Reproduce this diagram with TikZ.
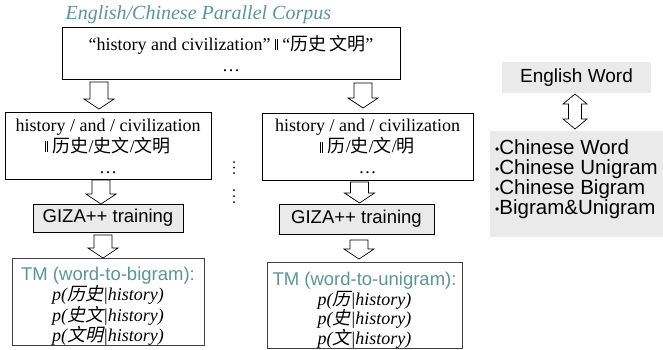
\documentclass[tikz,border=0pt]{standalone}
\usepackage{fontspec}
\setmainfont{Liberation Serif}
\setsansfont{Liberation Sans}
\newfontfamily\cjk{Noto Sans CJK SC}
\newfontfamily\cjkit[FakeSlant=0.22]{Noto Sans CJK SC}
\usetikzlibrary{positioning}

\definecolor{corpusteal}{RGB}{90,150,150}
\definecolor{boxgray}{RGB}{234,234,234}
\newcommand{\dbar}{\rule{0.8pt}{11pt}\hspace{1.4pt}\rule{0.8pt}{11pt}}
\newcommand{\zh}[1]{{\cjk #1}}
\newcommand{\zhit}[1]{{\cjkit #1}}
\newcommand{\unitdot}{\raisebox{1.5pt}{\fontsize{12}{12}\selectfont\textbullet}}

\tikzset{
  corpus/.style={draw, line width=0.8pt, inner sep=0pt, align=center, font=\fontsize{18}{21}\selectfont},
  giza/.style={draw, fill=boxgray, line width=0.8pt, inner sep=0pt, font=\sffamily\fontsize{18.5}{20}\selectfont},
  tm/.style={draw=black!75, line width=0.8pt, inner sep=0pt, align=center, font=\fontsize{18}{19}\selectfont\itshape},
  unit/.style={fill=boxgray, inner sep=0pt, font=\sffamily\fontsize{19}{20}\selectfont},
  arrowline/.style={draw, fill=white, line width=0.7pt, line join=miter},
  pics/blockdown/.style={code={
    \path[arrowline] (-9,0) -- (9,0) -- (9,#1-10) -- (15,#1-10) -- (0,#1) -- (-15,#1-10) -- (-9,#1-10) -- cycle;}},
  pics/blockboth/.style={code={
    \path[arrowline] (0,0) -- (12,10) -- (6.5,10) -- (6.5,#1-10) -- (12,#1-10) -- (0,#1)
      -- (-12,#1-10) -- (-6.5,#1-10) -- (-6.5,10) -- (-12,10) -- cycle;}}
}

\begin{document}
\begin{tikzpicture}[x=1pt, y=-1pt]
        \useasboundingbox (0,0) rectangle (663,349);
        % parallel corpus
        \node[font=\itshape\fontsize{20}{22}\selectfont, text=corpusteal, anchor=west] (title) at (62,15) {English/Chinese Parallel Corpus};
        \node[corpus, minimum width=338pt, minimum height=52pt] (corpus) at (231,53)
                {“history and civilization” \dbar\ “\zh{历史\,文明}”\\ \dots};
        % segmented sentences
        \node[corpus, minimum width=206pt, minimum height=67pt] (segL) at (108,146)
                {history / and / civilization\\ \dbar\ \zh{历史}/\zh{史文}/\zh{文明}\\ \dots};
        \node[corpus, minimum width=211pt, minimum height=67pt] (segR) at (367.5,146.5)
                {history / and / civilization\\ \dbar\ \zh{历}/\zh{史}/\zh{文}/\zh{明}\\ \dots};
        \foreach \y in {162,167.5,173,190,196,202}
                \fill (234,\y) circle (1pt);
        % training
        \node[giza, minimum width=150pt, minimum height=28pt] (gizaL) at (108,218) {GIZA++ training};
        \node[giza, minimum width=155pt, minimum height=30pt] (gizaR) at (356.5,219) {GIZA++ training};
        % translation models
        \node[tm, minimum width=192pt, minimum height=79pt] (tmL) at (108,301.5)
                {\rule{0pt}{23pt}\textcolor{corpusteal}{\upshape\sffamily\fontsize{18.5}{20}\selectfont TM (word-to-bigram):}\\[1pt]
                 p(\zhit{历史}|history)\\ p(\zhit{史文}|history)\\ p(\zhit{文明}|history)};
        \node[tm, minimum width=195pt, minimum height=84pt] (tmR) at (364.5,305)
                {\rule{0pt}{23pt}\textcolor{corpusteal}{\upshape\sffamily\fontsize{18.5}{20}\selectfont TM (word-to-unigram):}\\[1pt]
                 p(\zhit{历}|history)\\ p(\zhit{史}|history)\\ p(\zhit{文}|history)};
        % block arrows
        \pic (arrL1) at (99,82) {blockdown=27};
        \pic (arrR1) at (363,83) {blockdown=25};
        \pic (arrL2) at (101,180) {blockdown=24};
        \pic (arrR2) at (359.5,182) {blockdown=21};
        \pic (arrL3) at (103,235) {blockdown=23};
        \pic (arrR3) at (359,240) {blockdown=19};
        % units
        \node[unit, minimum width=149pt, minimum height=31pt] (engword) at (576.5,77.5) {English Word};
        \pic (link) at (575,94) {blockboth=35};
        \node[unit, minimum width=173pt, minimum height=106pt, align=left, font=\sffamily\fontsize{20.5}{20}\selectfont] (units) at (576.5,184)
                {\unitdot Chinese Word\\ \unitdot Chinese Unigram\\ \unitdot Chinese Bigram\\ \unitdot Bigram\&Unigram\rule[-13pt]{0pt}{1pt}};
\end{tikzpicture}
\end{document}
